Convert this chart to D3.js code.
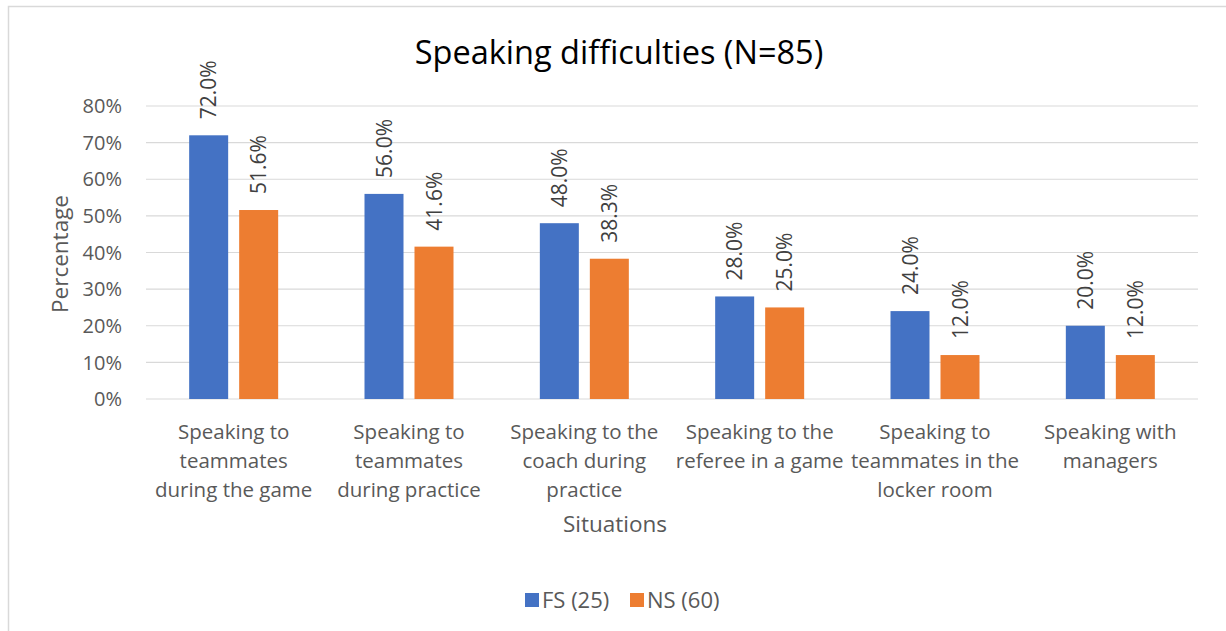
<!DOCTYPE html>
<html>
<head>
<meta charset="utf-8">
<script src="https://cdn.jsdelivr.net/npm/d3@7"></script>
<style>
  html, body { margin: 0; padding: 0; background: #fff; }
  svg { display: block; font-family: "Open Sans", sans-serif; }
</style>
</head>
<body>
<svg id="chart" width="1226" height="631"></svg>
<script>
'use strict';

const categories = [
  ['Speaking to', 'teammates', 'during the game'],
  ['Speaking to', 'teammates', 'during practice'],
  ['Speaking to the', 'coach during', 'practice'],
  ['Speaking to the', 'referee in a game'],
  ['Speaking to', 'teammates in the', 'locker room'],
  ['Speaking with', 'managers']
];
const seriesNames = ['FS (25)', 'NS (60)'];
const fsValues = [72.0, 56.0, 48.0, 28.0, 24.0, 20.0];
const nsValues = [51.6, 41.6, 38.3, 25.0, 12.0, 12.0];
const yTicks = [0, 10, 20, 30, 40, 50, 60, 70, 80];
const colors = ['#4472C4', '#ED7D31'];

const svg = d3.select('#chart');
const M = { left: 146, right: 1198, top: 106, bottom: 399 };

/* chart border */
svg.append('rect').attr('x', 8.5).attr('y', 6.5).attr('width', 1230).attr('height', 640)
  .attr('fill', 'none').attr('stroke', '#d9d9d9').attr('stroke-width', 1.5);

const x0 = d3.scaleBand().domain(d3.range(categories.length)).range([M.left, M.right]);
const y = d3.scaleLinear().domain([0, 80]).range([M.bottom, M.top]);
const barW = 39, gap = 11;

/* gridlines */
svg.append('g').selectAll('line').data(yTicks).join('line')
  .attr('x1', M.left).attr('x2', M.right)
  .attr('y1', d => y(d)).attr('y2', d => y(d))
  .attr('stroke', '#d9d9d9').attr('stroke-width', 1.2);

/* y tick labels */
svg.append('g').selectAll('text').data(yTicks).join('text')
  .attr('x', 122).attr('y', d => y(d)).attr('dy', '0.36em')
  .attr('text-anchor', 'end').style('font-size', '20px').style('fill', '#595959')
  .text(d => d + '%');

const bars = [];
categories.forEach((c, i) => {
  const cx = x0(i) + x0.bandwidth() / 2;
  bars.push({ x: cx - gap / 2 - barW, v: fsValues[i], s: 0 });
  bars.push({ x: cx + gap / 2, v: nsValues[i], s: 1 });
});

svg.append('g').selectAll('rect').data(bars).join('rect')
  .attr('x', d => d.x).attr('width', barW)
  .attr('y', d => y(d.v)).attr('height', d => y(0) - y(d.v))
  .attr('fill', d => colors[d.s]);

/* data labels */
svg.append('g').selectAll('text').data(bars).join('text')
  .attr('transform', d => `translate(${d.x + barW / 2},${y(d.v) - 16}) rotate(-90)`)
  .attr('dy', '0.36em')
  .style('font-size', '21px').style('fill', '#404040')
  .text(d => d.v.toFixed(1) + '%');

/* category labels */
const cat = svg.append('g').selectAll('text').data(categories).join('text')
  .attr('x', (d, i) => x0(i) + x0.bandwidth() / 2)
  .attr('y', 432).attr('text-anchor', 'middle')
  .style('font-size', '20.5px').style('fill', '#595959');
cat.selectAll('tspan').data(d => d).join('tspan')
  .attr('x', function () { return this.parentNode.getAttribute('x'); })
  .attr('dy', (d, i) => i === 0 ? '0.36em' : '29px')
  .text(d => d);

/* axis titles */
svg.append('text').attr('x', 615).attr('y', 524).attr('dy', '0.36em')
  .attr('text-anchor', 'middle').style('font-size', '22.5px').style('fill', '#595959').text('Situations');
svg.append('text').attr('transform', `translate(60,254) rotate(-90)`)
  .attr('dy', '0.36em').attr('text-anchor', 'middle')
  .style('font-size', '22.5px').style('fill', '#595959').text('Percentage');

/* title */
svg.append('text').attr('x', 619).attr('y', 52).attr('dy', '0.36em')
  .attr('text-anchor', 'middle').style('font-size', '32.5px').style('fill', '#000').text('Speaking difficulties (N=85)');

/* legend */
const legX = [525, 630];
const leg = svg.append('g').selectAll('g').data(seriesNames).join('g')
  .attr('transform', (d, i) => `translate(${legX[i]},600)`);
leg.append('rect').attr('x', 0).attr('y', -7).attr('width', 14).attr('height', 14).attr('fill', (d, i) => colors[i]);
leg.append('text').attr('x', 17).attr('dy', '0.36em').style('font-size', '22px').style('fill', '#595959').text(d => d);
</script>
</body>
</html>
